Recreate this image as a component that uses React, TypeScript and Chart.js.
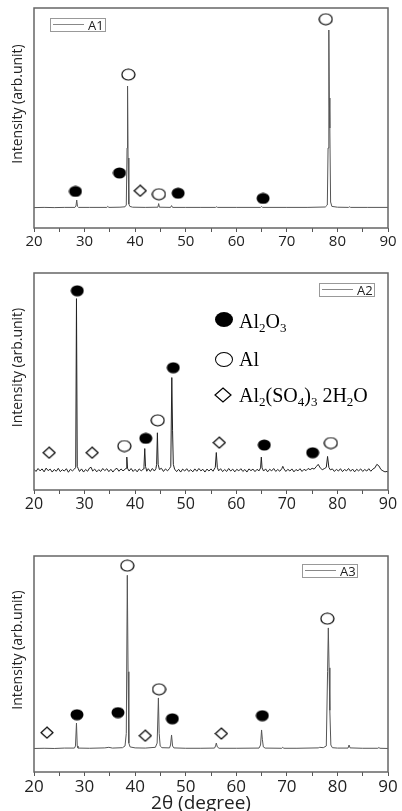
import React, { useEffect, useRef } from 'react';
import { Chart, registerables } from 'chart.js';

Chart.register(...registerables);

// ---------- data ----------
const tickLabels = [20, 30, 40, 50, 60, 70, 80, 90];
const yTitleText = 'Intensity (arb.unit)';
const xTitleText = '2θ (degree)';

// A1 pattern [2θ, intensity]
const a1Points: [number, number][] = [
  [20, 0.2], [22, 0.3], [24, 0.2], [26, 0.3], [28.1, 0.3], [28.3, 1], [28.45, 4], [28.6, 0.8], [28.8, 0.3],
  [31, 0.3], [34.4, 0.3], [34.6, 0.8], [34.8, 0.3], [37, 0.4], [38.0, 0.6], [38.25, 1.5], [38.4, 30],
  [38.5, 61], [38.6, 25], [38.75, 2], [38.95, 0.8], [39.5, 0.4], [42, 0.3], [44.5, 0.4], [44.65, 2.2],
  [44.8, 0.4], [47.0, 0.3], [47.2, 1.2], [47.4, 0.3], [50, 0.3], [53, 0.3], [55.9, 0.3], [56.1, 0.6],
  [56.3, 0.3], [60, 0.3], [64.8, 0.3], [65.0, 0.7], [65.2, 0.3], [70, 0.3], [74, 0.3], [77.6, 0.5],
  [78.0, 1.5], [78.15, 30], [78.3, 89], [78.4, 55], [78.5, 40], [78.65, 3], [78.9, 0.8], [80, 0.4],
  [82.2, 0.3], [82.4, 0.6], [82.6, 0.3], [86, 0.3], [90, 0.3],
];
const a1Filled: [number, number][] = [[28.2, 8.3], [36.9, 17.5], [48.5, 7.4], [65.3, 4.8]];
const a1Open: [number, number][] = [[38.65, 66.7], [44.7, 6.9], [77.7, 94.4]];
const a1Diamond: [number, number][] = [[41.0, 8.6]];

// A2 pattern [2θ, intensity]
const a2Points: [number, number][] = [
  [20.0, 0.5], [20.4, -0.6], [20.8, 0.9], [21.2, -0.3], [21.6, 0.7], [22.0, -0.8], [22.4, 1.1], [22.8, -0.2],
  [23.2, 0.6], [23.6, -0.9], [24.0, 0.4], [24.4, -0.5], [24.8, 1.0], [25.2, -0.7], [25.6, 0.3], [26.0, -0.4],
  [26.4, 0.8], [26.8, -1.0], [27.2, 0.5], [27.6, -0.3], [28.0, 0.6], [28.25, 1.5], [28.4, 87], [28.55, 2],
  [28.75, 0.8], [29.0, -0.6], [29.4, 0.7], [29.8, -0.9], [30.2, 0.4], [30.6, -0.5], [31.0, 1.2], [31.3, 1.5],
  [31.6, -0.4], [32.0, 0.6], [32.4, -0.8], [32.8, 0.3], [33.2, -0.6], [33.6, 0.9], [34.0, -0.2], [34.4, 0.8],
  [34.8, -0.7], [35.2, 0.5], [35.6, -0.9], [36.0, 0.4], [36.4, 1.0], [36.8, -0.5], [37.2, 0.7], [37.6, -0.3],
  [38.0, 0.5], [38.2, 1], [38.35, 6.7], [38.5, 1], [38.8, -0.4], [39.2, 0.9], [39.6, -0.6], [40.0, 0.5],
  [40.4, -0.8], [40.8, 0.7], [41.2, -0.3], [41.6, 0.6], [41.75, 2], [41.9, 11], [42.05, 2], [42.3, -0.5],
  [42.6, 0.8], [43.0, -0.6], [43.4, 0.9], [43.8, -0.4], [44.1, 0.8], [44.25, 3], [44.4, 19], [44.55, 3],
  [44.8, 0.4], [45.2, 1.0], [45.6, -0.6], [46.0, 0.7], [46.4, -0.3], [46.8, 0.9], [47.05, 2], [47.25, 47],
  [47.4, 20], [47.55, 3], [47.8, 0.6], [48.2, -0.7], [48.6, 0.5], [49.0, -0.9], [49.4, 0.6], [49.8, -0.4],
  [50.2, 0.8], [50.6, -0.6], [51.0, 0.3], [51.4, -0.8], [51.8, 0.7], [52.2, -0.5], [52.6, 0.9], [53.0, -0.3],
  [53.4, 0.5], [53.8, -0.9], [54.2, 0.6], [54.6, -0.4], [55.0, 0.7], [55.4, -0.5], [55.85, 1.5], [56.05, 9],
  [56.25, 1.5], [56.5, -0.3], [56.9, 0.8], [57.3, -0.7], [57.7, 0.4], [58.1, -0.6], [58.5, 0.9], [58.9, -0.4],
  [59.3, 0.6], [59.7, -0.8], [60.1, 0.5], [60.5, -0.3], [60.9, 0.8], [61.3, -0.6], [61.7, 0.4], [62.1, -0.9],
  [62.5, 0.7], [62.9, -0.2], [63.3, 0.6], [63.7, -0.7], [64.1, 0.5], [64.5, -0.3], [64.8, 1.2], [64.95, 6.7],
  [65.1, 1.2], [65.4, -0.4], [65.8, 0.7], [66.2, -0.8], [66.6, 0.5], [67.0, -0.3], [67.4, 0.9], [67.8, -0.6],
  [68.2, 0.4], [68.6, -0.5], [69.0, 0.8], [69.2, 2], [69.4, 0.8], [69.8, -0.6], [70.2, 0.5], [70.6, -0.4],
  [71.0, 0.7], [71.4, -0.8], [71.8, 0.4], [72.2, -0.3], [72.6, 0.8], [73.0, -0.6], [73.4, 0.5], [73.8, -0.2],
  [74.2, 0.9], [74.6, 0.3], [75.0, 1.0], [75.4, 0.6], [75.8, 1.8], [76.2, 3], [76.6, 1.2], [77.0, 0.3],
  [77.4, 0.8], [77.8, 1.5], [78.05, 7], [78.3, 1.5], [78.6, 0.2], [79.0, 0.7], [79.4, -0.6], [79.8, 0.5],
  [80.2, -0.4], [80.6, 0.8], [81.0, -0.7], [81.4, 0.4], [81.8, -0.3], [82.2, 0.9], [82.6, -0.5], [83.0, 0.6],
  [83.4, -0.8], [83.8, 0.5], [84.2, -0.3], [84.6, 0.7], [85.0, -0.6], [85.4, 0.4], [85.8, -0.4], [86.2, 0.8],
  [86.6, -0.5], [87.0, 0.6], [87.4, 1.2], [87.8, 3], [88.2, 2.2], [88.6, 0.4], [89.0, -0.3], [89.4, -0.8],
  [89.8, -0.6], [90, -0.9],
];
const a2Filled: [number, number][] = [[28.56, 91], [42.1, 16.2], [47.54, 52], [65.54, 12.8], [75.1, 8.9]];
const a2Open: [number, number][] = [[37.86, 12.3], [44.46, 25.3], [78.7, 13.8]];
const a2Diamond: [number, number][] = [[23.0, 8.9], [31.5, 8.9], [56.64, 14]];

// A3 pattern [2θ, intensity]
const a3Points: [number, number][] = [
  [20, 0.2], [22, 0.3], [24, 0.2], [26, 0.4], [28.0, 0.4], [28.2, 1.5], [28.4, 13.4], [28.55, 1.5], [28.7, 0.4],
  [31, 0.3], [34, 0.5], [34.8, 0.8], [35.5, 0.4], [37.5, 0.6], [38.0, 1.5], [38.25, 8], [38.45, 90],
  [38.6, 40], [38.75, 3], [39, 1], [40, 0.5], [42, 0.4], [44.0, 0.8], [44.35, 3], [44.6, 26.4], [44.75, 8],
  [44.95, 1.5], [45.3, 0.6], [46.8, 0.5], [47.0, 2], [47.2, 7.2], [47.4, 1.5], [47.65, 0.5], [50, 0.3],
  [53, 0.3], [55.7, 0.4], [55.9, 1.5], [56.05, 3], [56.25, 1], [56.6, 0.3], [60, 0.3], [64.5, 0.4],
  [64.8, 2], [65.0, 9.8], [65.15, 5], [65.35, 1], [65.7, 0.4], [69.0, 0.3], [69.2, 0.8], [69.4, 0.3],
  [72, 0.3], [76.2, 0.5], [76.5, 0.8], [77.2, 0.6], [77.8, 1.5], [78.05, 40], [78.2, 62.7], [78.35, 42],
  [78.5, 20], [78.7, 2], [79, 0.6], [80, 0.4], [82.1, 0.4], [82.3, 2], [82.5, 0.5], [85, 0.3],
  [88.0, 0.3], [88.2, 0.7], [88.4, 0.3], [90, 0.2],
];
const a3Filled: [number, number][] = [[28.5, 17.7], [36.6, 18.8], [47.35, 15.6], [65.15, 17.2]];
const a3Open: [number, number][] = [[38.45, 95], [44.72, 30.9], [78.0, 67.5]];
const a3Diamond: [number, number][] = [[22.57, 8.4], [42.0, 6.8], [57.04, 7.9]];

// ---------- helpers ----------
function makeMarker(kind: string, w: number, h: number) {
  const c = document.createElement('canvas');
  c.width = w;
  c.height = h;
  const ctx = c.getContext('2d')!;
  ctx.lineWidth = 1.2;
  ctx.strokeStyle = '#000';
  ctx.beginPath();
  if (kind === 'filled') {
    ctx.ellipse(w / 2, h / 2, w / 2 - 0.5, h / 2 - 0.5, 0, 0, Math.PI * 2);
    ctx.fillStyle = '#000';
    ctx.fill();
  } else if (kind === 'open') {
    ctx.ellipse(w / 2, h / 2, w / 2 - 1, h / 2 - 1, 0, 0, Math.PI * 2);
    ctx.fillStyle = '#fff';
    ctx.fill();
    ctx.stroke();
  } else {
    ctx.moveTo(w / 2, 1);
    ctx.lineTo(w - 1, h / 2);
    ctx.lineTo(w / 2, h - 1);
    ctx.lineTo(1, h / 2);
    ctx.closePath();
    ctx.fillStyle = '#fff';
    ctx.fill();
    ctx.stroke();
  }
  return c;
}

const frameTitles = {
  id: 'frameTitles',
  afterDraw(chart: any, _args: any, opts: any) {
    const { ctx, chartArea: a } = chart;
    ctx.save();
    ctx.strokeStyle = '#666';
    ctx.lineWidth = 1.5;
    ctx.strokeRect(a.left, a.top, a.right - a.left, a.bottom - a.top);
    ctx.fillStyle = '#222';
    ctx.textAlign = 'center';
    ctx.textBaseline = 'middle';
    if (opts.xTitle) {
      ctx.font = '19px "Open Sans"';
      ctx.fillText(opts.xTitle, opts.xTitleX, opts.xTitleY);
    }
    ctx.font = '14px "Open Sans"';
    ctx.translate(18, (a.top + a.bottom) / 2 - 14);
    ctx.rotate(-Math.PI / 2);
    ctx.fillText(opts.yTitle, 0, 0);
    ctx.restore();
  },
};

type PanelCfg = {
  top: number;
  height: number;
  padTop: number;
  padBottom: number;
  yMin: number;
  yMax: number;
  tickFont: number;
  points: [number, number][];
  filled: [number, number][];
  open: [number, number][];
  diamond: [number, number][];
  color: string;
  xTitle: string;
};

const toXY = (arr: [number, number][]) => arr.map(([x, y]) => ({ x, y }));

function XrdPanel({ cfg }: { cfg: PanelCfg }) {
  const ref = useRef<HTMLCanvasElement | null>(null);
  useEffect(() => {
    const filledImg = makeMarker('filled', 14, 12);
    const openImg = makeMarker('open', 15, 13);
    const diamondImg = makeMarker('diamond', 14, 13);
    const chart = new Chart(ref.current!, {
      type: 'scatter',
      data: {
        datasets: [
          {
            data: toXY(cfg.points),
            showLine: true,
            borderColor: cfg.color,
            borderWidth: 1,
            pointRadius: 0,
            tension: 0,
          },
          { data: toXY(cfg.filled), showLine: false, pointStyle: filledImg, pointRadius: 7 },
          { data: toXY(cfg.open), showLine: false, pointStyle: openImg, pointRadius: 7 },
          { data: toXY(cfg.diamond), showLine: false, pointStyle: diamondImg, pointRadius: 7 },
        ] as any,
      },
      options: {
        responsive: false,
        animation: false,
        devicePixelRatio: 1,
        events: [],
        layout: { padding: { left: 34, right: 14, top: cfg.padTop, bottom: cfg.padBottom } },
        plugins: {
          legend: { display: false },
          tooltip: { enabled: false },
          frameTitles: { yTitle: yTitleText, xTitle: cfg.xTitle, xTitleX: 201, xTitleY: 264 },
        } as any,
        scales: {
          x: {
            type: 'linear',
            min: 20,
            max: 90,
            afterFit: (s: any) => {
              s.height = 24;
            },
            border: { display: false },
            grid: { display: true, drawOnChartArea: false, drawTicks: true, tickLength: 4, color: '#555', lineWidth: 1 },
            ticks: {
              stepSize: 5,
              autoSkip: false,
              maxRotation: 0,
              padding: 1,
              color: '#222',
              font: { family: '"Open Sans"', size: cfg.tickFont },
              callback: (v: any) => (tickLabels.includes(Number(v)) ? String(v) : ''),
            },
          },
          y: { type: 'linear', display: false, min: cfg.yMin, max: cfg.yMax },
        },
      },
      plugins: [frameTitles],
    });
    return () => chart.destroy();
  }, []);
  return (
    <canvas
      ref={ref}
      width={402}
      height={cfg.height}
      style={{ position: 'absolute', left: 0, top: cfg.top, width: 402, height: cfg.height }}
    />
  );
}

function SeriesKey({ left, top, label }: { left: number; top: number; label: string }) {
  return (
    <div
      style={{
        position: 'absolute',
        left,
        top,
        width: 56,
        height: 14,
        border: '1px solid #999',
        background: '#fff',
        boxSizing: 'border-box',
      }}
    >
      <div style={{ position: 'absolute', left: 2, top: 5, width: 31, height: 1, background: '#888' }} />
      <span
        style={{
          position: 'absolute',
          left: 37,
          top: -2,
          font: '13px "Open Sans"',
          lineHeight: '16px',
          color: '#222',
        }}
      >
        {label}
      </span>
    </div>
  );
}

const subStyle: React.CSSProperties = { fontSize: 13, verticalAlign: '-4px', lineHeight: 0 };

function PhaseKey() {
  const text: React.CSSProperties = {
    position: 'absolute',
    left: 239,
    font: '20px "Liberation Serif"',
    lineHeight: '20px',
    color: '#000',
    whiteSpace: 'nowrap',
  };
  return (
    <>
      <div style={{ position: 'absolute', left: 215, top: 312, width: 18, height: 15, borderRadius: '50%', background: '#000' }} />
      <span style={{ ...text, top: 311 }}>
        Al<sub style={subStyle}>2</sub>O<sub style={subStyle}>3</sub>
      </span>
      <div
        style={{
          position: 'absolute',
          left: 215,
          top: 352,
          width: 18,
          height: 15,
          borderRadius: '50%',
          border: '1.2px solid #000',
          boxSizing: 'border-box',
        }}
      />
      <span style={{ ...text, top: 349 }}>Al</span>
      <svg style={{ position: 'absolute', left: 214, top: 387 }} width={18} height={16}>
        <polygon points="9,1 17,8 9,15 1,8" fill="#fff" stroke="#000" strokeWidth={1.2} />
      </svg>
      <span style={{ ...text, top: 385 }}>
        Al<sub style={subStyle}>2</sub>(SO<sub style={subStyle}>4</sub>)<sub style={subStyle}>3</sub> 2H
        <sub style={subStyle}>2</sub>O
      </span>
    </>
  );
}

const panels: PanelCfg[] = [
  {
    top: 0, height: 252, padTop: 7, padBottom: 0, yMin: -10, yMax: 100, tickFont: 15,
    points: a1Points, filled: a1Filled, open: a1Open, diamond: a1Diamond, color: '#555', xTitle: '',
  },
  {
    top: 252, height: 268, padTop: 21, padBottom: 6, yMin: -10, yMax: 100, tickFont: 16,
    points: a2Points, filled: a2Filled, open: a2Open, diamond: a2Diamond, color: '#222', xTitle: '',
  },
  {
    top: 540, height: 271, padTop: 16, padBottom: 15, yMin: -12, yMax: 100, tickFont: 17,
    points: a3Points, filled: a3Filled, open: a3Open, diamond: a3Diamond, color: '#555', xTitle: xTitleText,
  },
];

export default function App() {
  return (
    <div style={{ position: 'absolute', left: 0, top: 0, width: 402, height: 811, background: '#fff', overflow: 'hidden' }}>
      {panels.map((p, i) => (
        <XrdPanel key={i} cfg={p} />
      ))}
      <SeriesKey left={50} top={18} label="A1" />
      <SeriesKey left={319} top={283} label="A2" />
      <SeriesKey left={302} top={564} label="A3" />
      <PhaseKey />
    </div>
  );
}
